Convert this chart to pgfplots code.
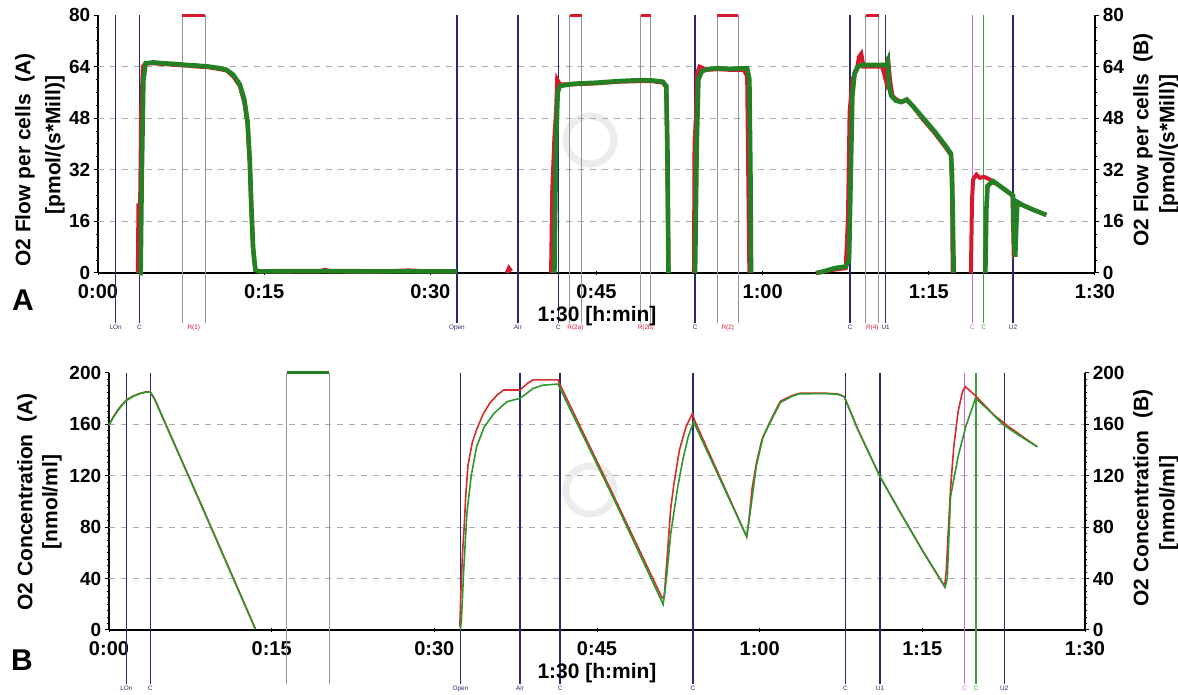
\documentclass[border=0pt]{standalone}
\usepackage{pgfplots}
\pgfplotsset{compat=1.18}
\usepackage{fontspec}
\setmainfont{Liberation Sans}
\definecolor{navy}{RGB}{40,40,110}
\definecolor{mgray}{RGB}{150,150,150}
\definecolor{mmag}{RGB}{215,95,215}
\definecolor{mgrn}{RGB}{60,160,60}
\definecolor{dred}{RGB}{215,25,45}
\definecolor{dgrn}{RGB}{35,128,35}
\definecolor{bred}{RGB}{210,45,45}
\definecolor{bgrn}{RGB}{45,150,45}
\definecolor{gridc}{RGB}{170,170,170}

\newcommand\mlab{\fontsize{3.2}{3.6}\selectfont}
% marker line: x, ytop, drop, colour, label
\newcommand\mline[5]{%
  \draw[#4,line width=0.7pt] (axis cs:#1,#2) -- ([yshift=-#3]axis cs:#1,0)
    node[below,inner sep=0.6pt,text=#4,font=\mlab]{#5};}
% pair: x1, x2, ytop, drop, mid, label, colour of top bar
\newcommand\rpair[7]{%
  \draw[mgray,line width=0.5pt] (axis cs:#1,#3) -- ([yshift=-#4]axis cs:#1,0);
  \draw[mgray,line width=0.5pt] (axis cs:#2,#3) -- ([yshift=-#4]axis cs:#2,0);
  \draw[#7,line width=1.5pt] (axis cs:#1,#3) -- (axis cs:#2,#3);
  \node[below,inner sep=0.6pt,text=#7,font=\mlab] at ([yshift=-#4]axis cs:#5,0) {#6};}

\pgfplotsset{
  common/.style={
    scale only axis, clip=false,
    xmin=0, xmax=90,
    /pgf/number format/assume math mode=true,
    axis line style={black,line width=0.7pt},
    major tick length=2.2pt, minor tick length=1.2pt,
    every tick/.style={black,line width=0.5pt},
    yticklabel style={font=\fontsize{9.5}{11}\bfseries\selectfont, inner sep=1.5pt},
    xticklabel style={font=\fontsize{10}{12}\bfseries\selectfont},
  },
  prim/.style={
    common,
    axis x line*=bottom, axis y line*=left,
    xtick={0,15,30,45,60,75,90},
    xticklabels={0:00,0:15,0:30,0:45,1:00,1:15,1:30},
    minor x tick num=4,
    x tick style={/pgfplots/tick align=center},
    y tick style={/pgfplots/tick align=outside},
    tick align=outside,
    unbounded coords=jump,
    extra y tick style={grid=major, major tick length=0pt, yticklabel=\empty},
    major grid style={dash pattern=on 3pt off 3pt, gridc, line width=0.5pt},
  },
  second/.style={
    common,
    axis x line=none, axis y line*=right,
    tick align=outside,
  },
}

\begin{document}
\begin{tikzpicture}
\useasboundingbox (0,0) rectangle (589pt,347.5pt);

% watermarks
\draw[gray!15, line width=3.5pt] (295pt,277.5pt) circle (12pt);
\draw[gray!15, line width=3.5pt] (295pt,102.5pt) circle (12pt);

% ---------------- Panel A ----------------
\begin{axis}[prim, at={(49pt,211pt)}, anchor=south west,
  width=498.5pt, height=129pt, ymin=0, ymax=80,
  ytick={0,16,32,48,64,80}, minor y tick num=3,
  extra y ticks={16,32,48,64}]
% marker lines
\mline{1.6}{80}{25pt}{navy}{LOn}
\mline{3.75}{80}{25pt}{navy}{C}
\rpair{7.6}{9.7}{80}{25pt}{8.65}{R(1)}{dred}
\mline{32.4}{80}{25pt}{navy}{Open}
\mline{37.9}{80}{25pt}{navy}{Air}
\mline{41.55}{80}{25pt}{navy}{C}
\rpair{42.6}{43.65}{80}{25pt}{43.1}{R(2a)}{dred}
\rpair{49.0}{49.9}{80}{25pt}{49.45}{R(2b)}{dred}
\mline{53.9}{80}{25pt}{navy}{C}
\rpair{55.9}{57.8}{80}{25pt}{56.85}{R(2)}{dred}
\mline{67.9}{80}{25pt}{navy}{C}
\rpair{69.3}{70.5}{80}{25pt}{69.9}{R(4)}{dred}
\mline{71.1}{80}{25pt}{navy}{U1}
\mline{78.93}{80}{25pt}{mmag}{C}
\mline{79.95}{80}{25pt}{mgrn}{C}
\mline{82.6}{80}{25pt}{navy}{U2}
% red (A)
\addplot[dred, line width=2pt] coordinates {
(3.6,0)(3.65,21)(3.8,21)(3.9,50)(4.05,64)(4.3,65)(5,65)(6,64.8)(7,64.5)(8,64.3)(9,64)(10,63.8)(11,63.2)(11.6,62.8)(12.2,61)(12.8,58)(13.2,53)(13.5,46)(13.7,34)(13.85,19)(14.0,7)(14.2,1)(14.5,0.5)(20,0.5)(20.5,1)(21,0.5)(25,0.4)(28,0.8)(30,0.5)(32.4,0.5)
(33,nan)
(36.9,0)(37.1,1.5)(37.3,0.5)
(38,nan)
(40.9,0)(41.0,25)(41.2,42)(41.35,50)(41.45,60)(41.7,58.5)(43,58.5)(45,58.8)(47,59.3)(49,59.5)(50,59.5)(51,59)(51.3,57.5)(51.4,30)(51.5,0)
(52,nan)
(53.8,0)(53.85,40)(54.0,50)(54.1,62)(54.3,64)(55,63)(56,63.2)(57,63)(58.3,63)(58.6,61)(58.7,30)(58.8,0)
(60,nan)
(64.8,0)(66,0.8)(67.5,1.5)(67.7,17)(67.85,50)(68.1,60)(68.5,63)(68.7,67)(68.9,68)(69.1,64)(70,64)(70.8,64)(71.1,60)(71.3,67)(71.5,60)(71.7,55)(72,54)(72.5,53)(73,53.5)(73.5,52)(74.5,47.5)(75.5,43.5)(76.5,39)(77,36.5)(77.1,25)(77.15,0)
(78,nan)
(78.8,0)(78.9,23)(79.0,29)(79.3,30.5)(79.6,29.5)(80,29.8)(80.5,29)(80.8,28)(81.2,27.5)(82,25.5)(82.55,24)(82.65,8)(82.8,10)(82.9,21.5)(83.5,21)(84.5,19.5)(85.6,18)
};
% green (B)
\addplot[dgrn, line width=2.3pt] coordinates {
(3.7,0)(3.85,0)(3.95,30)(4.1,60)(4.3,65)(5,65.3)(6,65)(7,64.8)(8,64.5)(9,64.3)(10,64)(11,63.5)(11.6,63)(12.2,61.5)(12.8,58.5)(13.2,54)(13.5,47)(13.7,35)(13.85,20)(14.0,8)(14.2,1)(14.5,0.5)(20,0.6)(25,0.5)(32.4,0.5)
(33,nan)
(41.2,0)(41.35,40)(41.5,56)(41.7,58)(43,58.7)(45,59)(47,59.5)(49,59.8)(50,59.7)(51,59.3)(51.3,58)(51.4,40)(51.5,0)
(52,nan)
(53.9,0)(54.05,40)(54.2,60)(54.5,62.5)(55,63.2)(56,63.5)(57,63.3)(58.6,63.5)(58.8,60)(58.9,30)(58.95,0)
(60,nan)
(64.9,0)(65.5,0.5)(66.5,1.5)(67.5,2)(67.8,4)(67.95,30)(68.1,55)(68.3,62)(68.6,64)(69,64.5)(70,64.5)(71.2,64.5)(71.3,65.5)(71.4,58)(71.6,55)(72,53.5)(72.5,53)(73,53.8)(73.5,52)(74.5,48)(75.5,44)(76.5,39.5)(77,37)(77.1,30)(77.2,10)(77.25,0)
(78,nan)
(80.1,0)(80.2,20)(80.3,27)(80.8,28.5)(81.2,27.5)(82,25.5)(82.6,24)(82.7,10)(82.8,5)(82.9,15)(83,22)(83.5,21)(84.5,19.5)(85.6,18)
};
\end{axis}
\begin{axis}[second, at={(49pt,211pt)}, anchor=south west,
  width=498.5pt, height=129pt, ymin=0, ymax=80,
  ytick={0,16,32,48,64,80}, minor y tick num=3]
\addplot[draw=none] coordinates {(0,0)};
\end{axis}

% ---------------- Panel B ----------------
\begin{axis}[prim, at={(54.5pt,32.5pt)}, anchor=south west,
  width=488pt, height=128.5pt, ymin=0, ymax=200,
  ytick={0,40,80,120,160,200}, minor y tick num=7,
  extra y ticks={40,80,120,160}]
\mline{1.6}{200}{27pt}{navy}{LOn}
\mline{3.8}{200}{27pt}{navy}{C}
\rpair{16.4}{20.3}{200}{27pt}{18.35}{}{dgrn}
\mline{32.4}{200}{27pt}{navy}{Open}
\mline{37.9}{200}{27pt}{navy}{Air}
\mline{41.6}{200}{27pt}{navy}{C}
\mline{53.85}{200}{27pt}{navy}{C}
\mline{67.9}{200}{27pt}{navy}{C}
\mline{71.1}{200}{27pt}{navy}{U1}
\mline{78.9}{200}{27pt}{mmag}{C}
\mline{79.95}{200}{27pt}{mgrn}{C}
\mline{82.56}{200}{27pt}{navy}{U2}
% red (A)
\addplot[bred, line width=0.8pt] coordinates {
(0,159.5)(0.4,166)(0.8,171)(1.2,175.5)(1.6,179)(2.2,182)(2.8,184)(3.4,185.3)(3.8,185.5)(4.2,180)(8.8,92)(13.5,1)
(20,nan)
(32.35,2.6)(32.45,30)(32.6,60)(32.75,80)(32.9,105)(33.1,128)(33.5,146)(33.9,156)(34.5,168)(35.1,176.4)(35.8,183)(36.4,186.8)(37.9,186.8)(38.2,189)(38.6,192)(39.1,194.6)(41.4,194.6)(41.7,189)(46.5,105)(51.0,25)(51.2,26)(51.5,60)(51.8,95)(52.1,114)(52.6,140)(53.2,158)(53.8,168.6)(54.0,163)(58.8,72.6)(59.0,85)(59.3,110)(59.7,130)(60.2,148)(61,163)(61.9,178)(63,182.5)(63.7,184.2)(66,184.3)(67.2,183.7)(67.8,181.6)(69,157)(71.1,119.3)(73,91)(75,62)(77.05,33.7)(77.2,45)(77.4,78)(77.6,110)(77.9,142.6)(78.3,170)(78.7,185.5)(78.96,189.4)(80,181.5)(81.6,167.3)(83,158)(84.5,149)(85.6,142.6)
};
% green (B)
\addplot[bgrn, line width=0.8pt] coordinates {
(0,159.5)(0.4,165.5)(0.8,170.5)(1.2,175)(1.6,178.5)(2.2,181.7)(2.8,183.8)(3.4,185)(3.8,185.3)(4.2,179.5)(8.8,91.5)(13.5,0.5)
(20,nan)
(32.4,0)(32.5,8)(32.7,45)(33.0,90.8)(33.4,120)(33.9,142.7)(34.6,158)(35.5,168.6)(36.7,177.7)(37.9,180.3)(38.5,184)(39.1,188)(40,190.5)(41.4,191.4)(41.7,186)(46.5,103)(51.1,20)(51.4,40)(51.8,75)(52.4,109)(52.9,132)(53.4,150)(53.9,162)(58.8,72.6)(59.1,90)(59.7,128)(60.3,150)(61,162)(61.9,177)(63,182)(63.7,183.8)(66,184)(67.2,183.4)(67.8,181.6)(69,157)(71.1,119.3)(73,91)(75,62)(77.1,33.5)(77.3,40)(77.6,103.8)(78.3,135)(79.0,158.2)(79.9,180.3)(81,172)(82.5,159.5)(84,151)(85.6,142.6)
};
\end{axis}
\begin{axis}[second, at={(54.5pt,32.5pt)}, anchor=south west,
  width=488pt, height=128.5pt, ymin=0, ymax=200,
  ytick={0,40,80,120,160,200}, minor y tick num=7]
\addplot[draw=none] coordinates {(0,0)};
\end{axis}

% axis titles
\begin{scope}[every node/.style={font=\fontsize{10.5}{12}\bfseries\selectfont, inner sep=0pt}]
\node[rotate=90] at (12.5pt,267.5pt) {O2 Flow per cells\ \ (A)};
\node[rotate=90] at (27.5pt,275pt) {[pmol/(s*Mill)]};
\node[rotate=90] at (571.5pt,277.5pt) {O2 Flow per cells\ \ (B)};
\node[rotate=90] at (584.5pt,275.5pt) {[pmol/(s*Mill)]};
\node[rotate=90] at (13.5pt,96.5pt) {O2 Concentration\ \ (A)};
\node[rotate=90] at (26pt,96.5pt) {[nmol/ml]};
\node[rotate=90] at (571.5pt,98.5pt) {O2 Concentration\ \ (B)};
\node[rotate=90] at (584.5pt,96pt) {[nmol/ml]};
\end{scope}
\node[font=\fontsize{10.5}{12}\bfseries\selectfont] at (298.5pt,189.5pt) {1:30 [h:min]};
\node[font=\fontsize{10.5}{12}\bfseries\selectfont] at (298.5pt,11pt) {1:30 [h:min]};
\node[font=\fontsize{15}{17}\bfseries\selectfont] at (11.5pt,197.5pt) {A};
\node[font=\fontsize{15}{17}\bfseries\selectfont] at (11pt,17.5pt) {B};
\end{tikzpicture}
\end{document}
